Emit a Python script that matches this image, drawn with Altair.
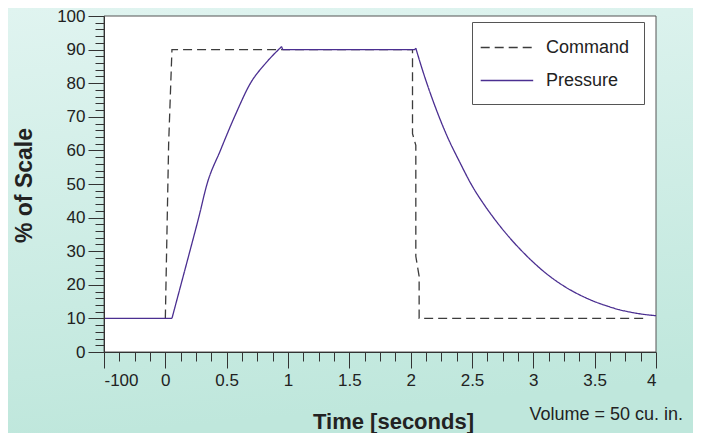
import altair as alt
import pandas as pd

# ---- data ----
cmd_t = [0.0, 0.027, 0.054, 2.015, 2.015, 2.042, 2.042, 2.069, 2.069, 3.93]
cmd_v = [10, 62, 90, 90, 65, 61.5, 28.5, 22.5, 10, 10]

# pressure, split into segments (0 flat, 1 rise, 2 plateau, 3 decay)
pres_t = [-0.5, 0.054,
          0.054, 0.127, 0.20, 0.272, 0.34, 0.449, 0.57, 0.694, 0.817, 0.948,
          0.948, 0.96, 2.03, 2.042,
          2.042, 2.1, 2.2, 2.3, 2.4, 2.5, 2.6, 2.7, 2.8, 2.9, 3.0, 3.1, 3.2, 3.3,
          3.4, 3.5, 3.6, 3.7, 3.8, 3.9, 4.0]
pres_v = [10, 10,
          10, 20, 30, 40, 50, 60, 70.5, 80, 85.9, 90.9,
          90.9, 90, 90, 90.4,
          90.4, 83.5, 73, 64, 56.5, 49.5, 43.8, 38.8, 34.3, 30.3, 26.7, 23.5, 20.8, 18.5,
          16.6, 15.0, 13.7, 12.6, 11.8, 11.2, 10.8]
pres_seg = [0, 0,
            1, 1, 1, 1, 1, 1, 1, 1, 1, 1,
            2, 2, 2, 2,
            3, 3, 3, 3, 3, 3, 3, 3, 3, 3, 3, 3, 3, 3,
            3, 3, 3, 3, 3, 3, 3]

series_names = ["Command", "Pressure"]
series_colors = ["#3c3c3c", "#4b2f91"]

x_major = [-0.5, 0, 0.5, 1, 1.5, 2, 2.5, 3, 3.5, 4]
x_minor = [v / 8 for v in range(-4, 33) if v % 4 != 0]
y_major = [0, 10, 20, 30, 40, 50, 60, 70, 80, 90, 100]
y_minor = [v for v in range(0, 101, 2) if v % 10 != 0]

x_title = "Time [seconds]"
y_title = "% of Scale"
note = "Volume = 50 cu. in."

W, H = 552, 336
FONT = "Liberation Sans"

cmd_df = pd.DataFrame({"series": "Command", "t": cmd_t, "v": cmd_v,
                       "i": list(range(len(cmd_t)))})
pres_df = pd.DataFrame({"series": "Pressure", "t": pres_t, "v": pres_v, "seg": pres_seg,
                        "i": list(range(len(pres_t)))})

xscale = alt.Scale(domain=[-0.5, 4], nice=False, zero=False)
yscale = alt.Scale(domain=[0, 100], nice=False, zero=False)
cscale = alt.Scale(domain=series_names, range=series_colors)
dscale = alt.Scale(domain=series_names, range=[[9, 5], [1, 0]])

one = alt.Data(values=[{"a": 1}])

bg = alt.Chart(one).mark_rect(
    fill=alt.Gradient(gradient="linear",
                      stops=[alt.GradientStop(color="#e0f4f0", offset=0),
                             alt.GradientStop(color="#bfe7dc", offset=1)],
                      x1=0, x2=0.15, y1=0, y2=1)
).encode(x=alt.value(-96), x2=alt.value(W + 37), y=alt.value(-8), y2=alt.value(H + 81))

plotbg = alt.Chart(one).mark_rect(fill="white", stroke="#555555", strokeWidth=1).encode(
    x=alt.value(0), x2=alt.value(W), y=alt.value(0), y2=alt.value(H))

x_enc = alt.X("t:Q", scale=xscale,
              axis=alt.Axis(values=x_major, orient="bottom", tickSize=16, tickColor="#333333",
                            domainColor="#333333", labelFontSize=17, labelFont=FONT,
                            labelColor="#222222", labelPadding=4,
                            labelExpr="datum.value == -0.5 ? '-100' : '' + datum.value",
                            title=x_title, titleFont=FONT, titleFontSize=22,
                            titleFontWeight="bold", titleColor="#222222",
                            titleX=289, titleY=76, titleBaseline="alphabetic",
                            grid=False, zindex=1))
y_enc = alt.Y("v:Q", scale=yscale,
              axis=alt.Axis(values=y_major, orient="left", tickSize=16, tickColor="#333333",
                            domainColor="#333333", labelFontSize=17, labelFont=FONT,
                            labelColor="#222222", labelPadding=3,
                            title=y_title, titleFont=FONT, titleFontSize=23,
                            titleFontWeight="bold", titleColor="#222222",
                            titleX=-80, titleY=169, titleAngle=270,
                            titleBaseline="middle", titleAlign="center",
                            grid=False, zindex=1))

cmd_line = alt.Chart(cmd_df).mark_line(strokeWidth=1.3).encode(
    x=x_enc, y=y_enc,
    color=alt.Color("series:N", scale=cscale, legend=alt.Legend(title=None)),
    strokeDash=alt.StrokeDash("series:N", scale=dscale, legend=alt.Legend(title=None)),
    order=alt.Order("i:Q"),
)

pres_line = alt.Chart(pres_df).mark_line(strokeWidth=1.3, interpolate="monotone").encode(
    x=alt.X("t:Q", scale=xscale, axis=None), y=alt.Y("v:Q", scale=yscale, axis=None),
    color=alt.Color("series:N", scale=cscale, legend=alt.Legend(title=None)),
    strokeDash=alt.StrokeDash("series:N", scale=dscale, legend=alt.Legend(title=None)),
    detail="seg:N",
    order=alt.Order("i:Q"),
)

xm = alt.Chart(pd.DataFrame({"xm": x_minor})).mark_point(opacity=0).encode(
    x=alt.X("xm:Q", scale=xscale,
            axis=alt.Axis(values=x_minor, orient="bottom", tickSize=9, tickColor="#333333",
                          labels=False, domain=False, title=None, grid=False, zindex=1)),
    y=alt.value(0),
)

ym = alt.Chart(pd.DataFrame({"ym": y_minor})).mark_point(opacity=0).encode(
    y=alt.Y("ym:Q", scale=yscale,
            axis=alt.Axis(values=y_minor, orient="left", tickSize=9, tickColor="#333333",
                          labels=False, domain=False, title=None, grid=False, zindex=1)),
    x=alt.value(0),
)

txt = alt.Chart(alt.Data(values=[{"note": note}])).mark_text(
    align="right", baseline="middle", fontSize=18, font=FONT, color="#222222"
).encode(x=alt.value(579), y=alt.value(399), text="note:N")

chart = alt.layer(bg, plotbg, cmd_line, pres_line, xm, ym, txt).resolve_axis(
    x="independent", y="independent"
).properties(
    width=W, height=H,
    autosize=alt.AutoSizeParams(type="none"),
    padding={"left": 96, "top": 8, "right": 37, "bottom": 81},
    background="#d0eee6",
).configure_view(stroke="transparent").configure_legend(
    orient="none", legendX=368, legendY=6, padding=14, fillColor="white",
    strokeColor="#555555", symbolType="M-1.6,0H3.4", symbolSize=441, symbolStrokeWidth=1.3,
    labelFontSize=18, labelFont=FONT, labelColor="#222222", labelOffset=37, rowPadding=12,
    zindex=1,
)

chart.save("out.html", embed_options={"renderer": "svg", "actions": False})
